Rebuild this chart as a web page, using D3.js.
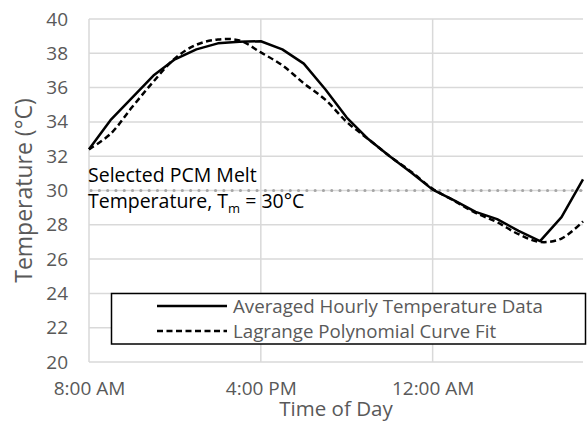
<!DOCTYPE html>
<html>
<head>
<meta charset="utf-8">
<script src="https://cdn.jsdelivr.net/npm/d3@7"></script>
<style>
  html, body { margin: 0; padding: 0; background: #fff; }
  svg { display: block; font-family: "Open Sans", "Noto Sans", sans-serif; }
</style>
</head>
<body>
<svg id="chart" width="587" height="423"></svg>
<script>
// Hours after 8:00 AM at which the temperature was averaged
const hoursFromStart = d3.range(0, 24);
// Averaged hourly temperature (°C)
const hourlyTemp = [32.4, 34.1, 35.4, 36.7, 37.65, 38.23, 38.58, 38.68, 38.7, 38.23, 37.4, 35.9,
                    34.25, 33.0, 32.0, 31.05, 30.05, 29.42, 28.75, 28.33, 27.65, 27.05, 28.45, 30.65];
// Lagrange polynomial fit evaluated on the same hours (°C)
const lagrangeFit = [32.4, 33.3, 34.85, 36.35, 37.7, 38.5, 38.8, 38.75, 38.05, 37.3, 36.25, 35.3,
                     34.0, 33.0, 32.0, 31.1, 30.1, 29.4, 28.7, 28.15, 27.45, 27.0, 27.2, 28.2];
const meltTemp = 30;
const yTicks = [20, 22, 24, 26, 28, 30, 32, 34, 36, 38, 40];
const seriesNames = ["Averaged Hourly Temperature Data", "Lagrange Polynomial Curve Fit"];

const svg = d3.select("#chart");
const margin = { left: 89, right: 4, top: 19, bottom: 61 };
const W = 587, H = 423;

const t0 = new Date(2020, 0, 1, 8, 0);
const toDate = h => d3.timeHour.offset(t0, h);

const x = d3.scaleTime()
  .domain([t0, toDate(23)])
  .range([margin.left, W - margin.right]);
const y = d3.scaleLinear()
  .domain([20, 40])
  .range([H - margin.bottom, margin.top]);

const grid = "#d9d9d9", textGray = "#595959";
const xTicks = d3.timeHour.every(8).range(t0, toDate(23.01));

// horizontal gridlines
svg.append("g").selectAll("line").data(yTicks).join("line")
  .attr("x1", x.range()[0]).attr("x2", x.range()[1])
  .attr("y1", d => y(d)).attr("y2", d => y(d))
  .attr("stroke", grid).attr("stroke-width", 1.5);

// vertical gridlines
svg.append("g").selectAll("line").data(xTicks).join("line")
  .attr("x1", d => x(d)).attr("x2", d => x(d))
  .attr("y1", y(40)).attr("y2", y(20))
  .attr("stroke", grid).attr("stroke-width", 1.5);

// y axis labels
const yAxis = svg.append("g")
  .attr("transform", `translate(${margin.left},0)`)
  .call(d3.axisLeft(y).tickValues(yTicks).tickSize(0).tickPadding(21).tickFormat(d3.format("d")));
yAxis.select(".domain").remove();
yAxis.selectAll("text").attr("fill", textGray).attr("font-size", 19)
  .attr("font-family", "'Open Sans', sans-serif");

// x axis labels
const xAxis = svg.append("g")
  .attr("transform", `translate(0,${y(20)})`)
  .call(d3.axisBottom(x).tickValues(xTicks).tickSize(0).tickPadding(19.5)
    .tickFormat(d3.timeFormat("%-I:%M %p")));
xAxis.select(".domain").remove();
xAxis.selectAll("text").attr("fill", textGray).attr("font-size", 19)
  .attr("font-family", "'Open Sans', sans-serif");

// axis titles
svg.append("text")
  .attr("x", (x.range()[0] + x.range()[1]) / 2).attr("y", 416)
  .attr("text-anchor", "middle").attr("fill", textGray).attr("font-size", 20.5)
  .text("Time of Day");
svg.append("text")
  .attr("transform", `translate(32,${(y(20) + y(40)) / 2}) rotate(-90)`)
  .attr("text-anchor", "middle").attr("fill", textGray).attr("font-size", 23)
  .text("Temperature (°C)");

// PCM melt temperature reference line
svg.append("line")
  .attr("x1", x.range()[0] + 2).attr("x2", x.range()[1])
  .attr("y1", y(meltTemp)).attr("y2", y(meltTemp))
  .attr("stroke", "#a6a6a6").attr("stroke-width", 3)
  .attr("stroke-linecap", "round").attr("stroke-dasharray", "0.1 8.2");

// annotation for the melt line
svg.append("text").attr("x", 88).attr("y", y(meltTemp) - 9)
  .attr("fill", "#000").attr("font-size", 19.5)
  .text("Selected PCM Melt");
const ann = svg.append("text").attr("x", 88).attr("y", y(meltTemp) + 17)
  .attr("fill", "#000").attr("font-size", 19.5);
ann.append("tspan").text("Temperature, T");
ann.append("tspan").attr("dy", 5).attr("font-size", 13).text("m");
ann.append("tspan").attr("dy", -5).text(" = 30°C");

// series
const line = d3.line().x((d, i) => x(toDate(hoursFromStart[i]))).y(d => y(d));
svg.append("path").datum(hourlyTemp)
  .attr("d", line)
  .attr("fill", "none").attr("stroke", "#000").attr("stroke-width", 2.5)
  .attr("stroke-linejoin", "round");
svg.append("path").datum(lagrangeFit)
  .attr("d", line.curve(d3.curveCatmullRom))
  .attr("fill", "none").attr("stroke", "#000").attr("stroke-width", 2.5)
  .attr("stroke-dasharray", "6 3.5");

// legend
const lg = svg.append("g");
lg.append("rect").attr("x", 111.5).attr("y", 293.5).attr("width", 474).attr("height", 50.5)
  .attr("fill", "#fff").attr("stroke", "#000").attr("stroke-width", 1.5);
const dashes = [null, "6 3.5"];
seriesNames.forEach((name, i) => {
  const yy = 306 + i * 25;
  lg.append("line").attr("x1", 157).attr("x2", 227).attr("y1", yy).attr("y2", yy)
    .attr("stroke", "#000").attr("stroke-width", 2.5)
    .attr("stroke-dasharray", dashes[i]);
  lg.append("text").attr("x", 233).attr("y", yy + 7)
    .attr("fill", textGray).attr("font-size", 18.7).text(name);
});
</script>
</body>
</html>
